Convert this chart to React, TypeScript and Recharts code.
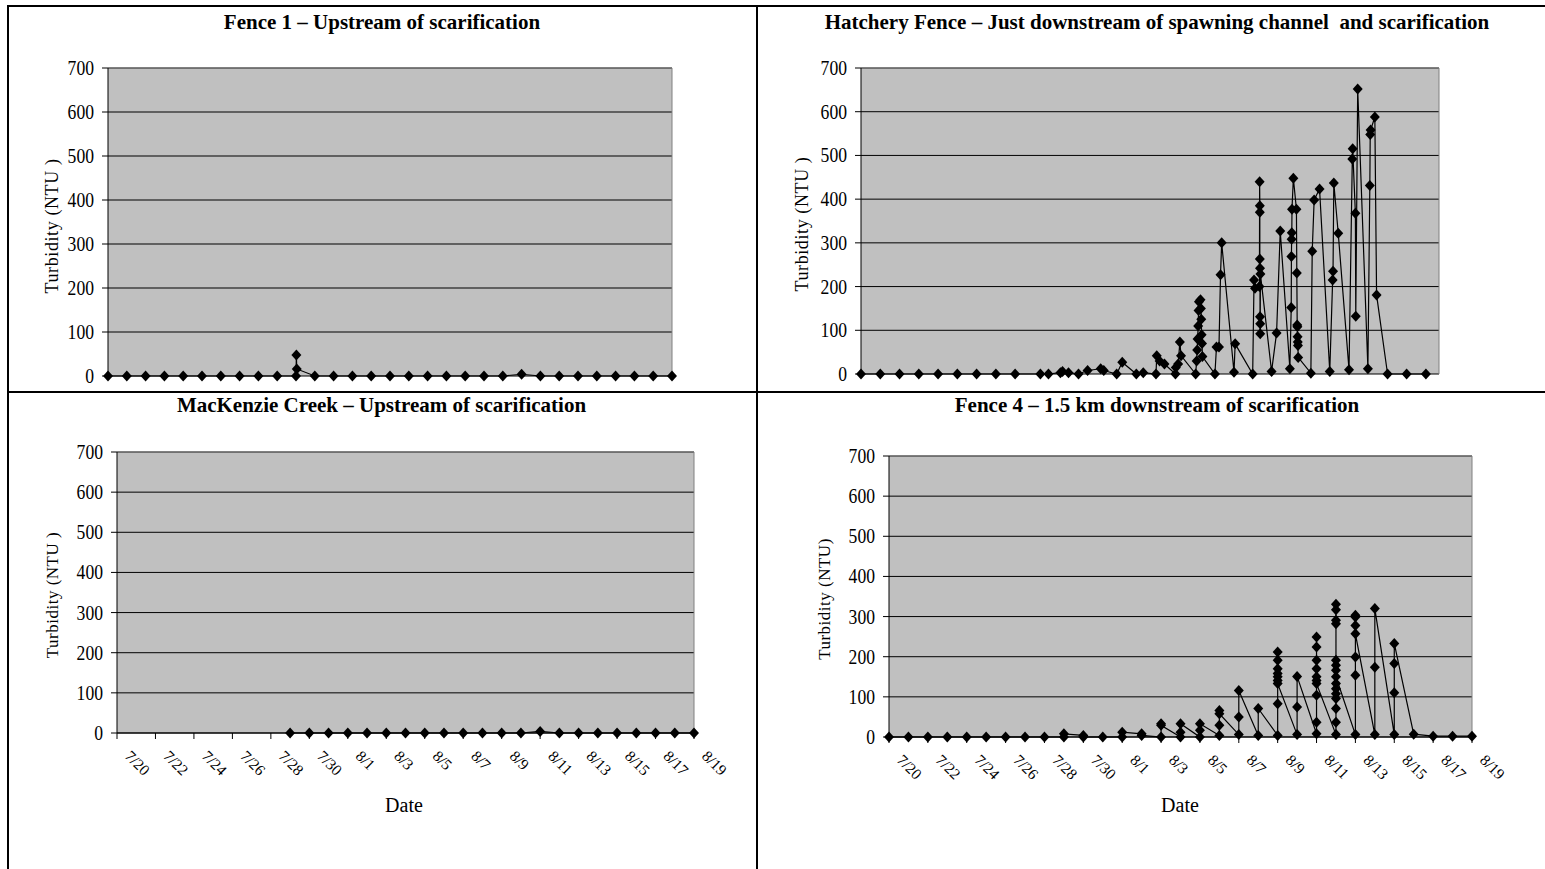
import React from "react";
import { LineChart, Line, XAxis, YAxis, CartesianGrid, ReferenceLine } from "recharts";

const serif = '"Liberation Serif", "Times New Roman", serif';

// x axis: days after 7/20, ticks every second day
const dateTicks = [0, 2, 4, 6, 8, 10, 12, 14, 16, 18, 20, 22, 24, 26, 28, 30];
const dateLabels = ["7/20", "7/22", "7/24", "7/26", "7/28", "7/30", "8/1", "8/3", "8/5", "8/7", "8/9", "8/11", "8/13", "8/15", "8/17", "8/19"];
const ntuTicks = [0, 100, 200, 300, 400, 500, 600, 700];

// Fence 1
const fence1Day = [0, 1, 2, 3, 4, 5, 6, 7, 8, 9, 10, 10.02, 10.04, 11, 12, 13, 14, 15, 16, 17, 18, 19, 20, 21, 22, 23, 24, 25, 26, 27, 28, 29, 30];
const fence1Ntu = [0, 0, 0, 0, 0, 0, 0, 0, 0, 0, 0, 48, 16, 0, 0, 0, 0, 0, 0, 0, 0, 0, 0, 0, 4, 0, 0, 0, 0, 0, 0, 0, 0];

// Hatchery fence
const hatchDay = [
  0, 1, 2, 3, 4, 5, 6, 7, 8,
  9.31, 9.73, 10.35, 10.46, 10.77, 11.29, 11.76, 12.44, 12.6, 13.27, 13.56, 14.29, 14.65,
  15.31, 15.35, 15.5, 15.75,
  16.32, 16.34, 16.46, 16.55, 16.61,
  17.37, 17.42, 17.45, 17.47, 17.5, 17.52, 17.54, 17.62, 17.64, 17.66, 17.68, 17.7, 17.72,
  18.37, 18.45, 18.58, 18.66, 18.72,
  19.36, 19.42,
  20.33, 20.4, 20.45, 20.68, 20.69, 20.7, 20.7, 20.7, 20.71, 20.71, 20.72, 20.72, 20.73,
  21.31, 21.57, 21.76,
  22.26, 22.33, 22.34, 22.35, 22.36, 22.37, 22.44, 22.6, 22.62, 22.64, 22.65, 22.66, 22.67, 22.68, 22.69,
  23.35, 23.42, 23.52, 23.8,
  24.33, 24.48, 24.5, 24.54, 24.77,
  25.33, 25.5, 25.52, 25.66, 25.68, 25.78,
  26.31, 26.41, 26.43, 26.45, 26.67, 26.76,
  27.33, 28.32, 29.32,
];
const hatchNtu = [
  0, 0, 0, 0, 0, 0, 0, 0, 0,
  0, 0, 3, 6, 3, 0, 8, 12, 8, 0, 27, 0, 3,
  0, 42, 30, 23,
  0, 15, 23, 73, 42,
  0, 30, 55, 80, 110, 145, 165, 170, 150, 125, 90, 70, 40,
  0, 62, 62, 227, 300,
  4, 69,
  0, 215, 196, 200, 440, 385, 370, 263, 242, 131, 115, 92, 229,
  6, 94, 327,
  12, 152, 269, 308, 323, 377, 448, 377, 231, 112, 108, 85, 73, 65, 38,
  2, 281, 398, 423,
  6, 215, 235, 437, 322,
  10, 492, 515, 368, 132, 652,
  12, 431, 548, 558, 588, 181,
  0, 0, 0,
];

// MacKenzie Creek
const mackDay = [9, 10, 11, 12, 13, 14, 15, 16, 17, 18, 19, 20, 21, 22, 23, 24, 25, 26, 27, 28, 29, 30];
const mackNtu = [0, 0, 0, 0, 0, 0, 0, 0, 0, 0, 0, 0, 0, 4, 0, 0, 0, 0, 0, 0, 0, 0];

// Fence 4
const fence4Day = [
  0, 1, 2, 3, 4, 5, 6, 7, 8,
  9, 9, 10, 10, 11, 12, 12, 13, 13,
  14, 14, 14, 15, 15, 15, 16, 16, 16,
  17, 17, 17, 17, 18, 18, 18, 19, 19,
  20, 20, 20, 20, 20, 20, 20, 20, 20,
  21, 21, 21,
  22, 22, 22, 22, 22, 22, 22, 22, 22, 22,
  23, 23, 23, 23, 23, 23, 23, 23, 23, 23, 23, 23, 23, 23, 23,
  24, 24, 24, 24, 24, 24, 24,
  25, 25, 25,
  26, 26, 26, 26,
  27, 28, 29, 30,
];
const fence4Ntu = [
  0, 0, 0, 0, 0, 0, 0, 0, 0,
  0, 8, 4, 0, 0, 0, 12, 8, 4,
  0, 33, 29, 0, 12, 33, 0, 17, 33,
  4, 29, 66, 58, 6, 50, 116, 4, 71,
  4, 83, 212, 191, 170, 158, 150, 141, 133,
  6, 75, 151,
  8, 37, 104, 249, 224, 191, 170, 150, 141, 133,
  6, 37, 71, 96, 108, 120, 133, 331, 317, 291, 282, 191, 179, 166, 150,
  6, 154, 199, 303, 299, 278, 257,
  6, 174, 320,
  6, 110, 183, 233,
  7, 2, 2, 2,
];

const toRows = (days: number[], vals: number[]) => days.map((d, i) => ({ day: d, ntu: vals[i] }));

const Diamond = (p: any) => {
  const { cx, cy, index } = p;
  if (cx == null || cy == null) return <g key={index} />;
  return (
    <polygon
      key={index}
      points={`${cx},${cy - 5.5} ${cx + 5},${cy} ${cx},${cy + 5.5} ${cx - 5},${cy}`}
      fill="#000"
    />
  );
};

const EmptyTick = () => <g />;

// the scanned chart text is a little narrow, so squeeze the numbers sideways
const NtuTick = (p: any) => {
  const { x, y, payload } = p;
  return (
    <g transform={`translate(${x},${y}) scale(0.88,1)`}>
      <text x={0} y={0} dy="0.35em" textAnchor="end" fontSize={20} fontFamily={serif} fill="#000">
        {payload.value}
      </text>
    </g>
  );
};

const DateTick = (p: any) => {
  const { x, y, payload } = p;
  const label = dateLabels[dateTicks.indexOf(payload.value)] ?? "";
  const ax = x + 7;
  const ay = y + 18;
  return (
    <text x={ax} y={ay} transform={`rotate(45 ${ax} ${ay})`} fontSize={15.5} fontFamily={serif} fill="#000">
      {label}
    </text>
  );
};

type PanelProps = {
  left: number;
  top: number;
  width: number;
  height: number;
  yWidth: number;
  margin: { top: number; right: number; bottom: number; left: number };
  xHeight: number;
  xMode: "none" | "ticks" | "labels";
  rows: { day: number; ntu: number }[];
};

function Panel({ left, top, width, height, yWidth, margin, xHeight, xMode, rows }: PanelProps) {
  return (
    <div style={{ position: "absolute", left, top, width, height }}>
      <LineChart width={width} height={height} data={rows} margin={margin}>
        <CartesianGrid vertical={false} stroke="#000" fill="#c0c0c0" fillOpacity={1} />
        <XAxis
          dataKey="day"
          type="number"
          domain={[0, 30]}
          ticks={dateTicks}
          height={xHeight}
          axisLine={{ stroke: "#000" }}
          tickLine={xMode === "none" ? false : { stroke: "#000" }}
          tickSize={6}
          tickMargin={0}
          tick={xMode === "labels" ? DateTick : xMode === "ticks" ? EmptyTick : false}
          interval={0}
        />
        <YAxis
          type="number"
          domain={[0, 700]}
          ticks={ntuTicks}
          width={yWidth}
          axisLine={{ stroke: "#000" }}
          tickLine={{ stroke: "#000" }}
          tickSize={6}
          tickMargin={8}
          tick={NtuTick}
          interval={0}
        />
        <ReferenceLine y={700} stroke="#808080" />
        <ReferenceLine x={30} stroke="#808080" />
        <Line
          type="linear"
          dataKey="ntu"
          stroke="#000"
          strokeWidth={1.2}
          dot={Diamond}
          activeDot={false}
          isAnimationActive={false}
        />
      </LineChart>
    </div>
  );
}

const rule = (left: number, top: number, width: number, height: number) => (
  <div style={{ position: "absolute", left, top, width, height, background: "#000" }} />
);

export default function App() {
  return (
    <div style={{ position: "absolute", left: 0, top: 0, width: 1545, height: 869, background: "#fff", overflow: "hidden" }}>
      <Panel
        left={0}
        top={0}
        width={756}
        height={392}
        yWidth={108}
        margin={{ top: 68, right: 84, bottom: 16, left: 0 }}
        xHeight={0}
        xMode="none"
        rows={toRows(fence1Day, fence1Ntu)}
      />
      <Panel
        left={757}
        top={0}
        width={788}
        height={392}
        yWidth={104}
        margin={{ top: 68, right: 106, bottom: 18, left: 0 }}
        xHeight={0}
        xMode="ticks"
        rows={toRows(hatchDay, hatchNtu)}
      />
      <Panel
        left={0}
        top={392}
        width={756}
        height={477}
        yWidth={117}
        margin={{ top: 60, right: 62, bottom: 0, left: 0 }}
        xHeight={136}
        xMode="labels"
        rows={toRows(mackDay, mackNtu)}
      />
      <Panel
        left={757}
        top={392}
        width={788}
        height={477}
        yWidth={132}
        margin={{ top: 64, right: 73, bottom: 0, left: 0 }}
        xHeight={132}
        xMode="labels"
        rows={toRows(fence4Day, fence4Ntu)}
      />

      <svg width={1545} height={869} style={{ position: "absolute", left: 0, top: 0, pointerEvents: "none" }}>
        <g fontFamily={serif} fill="#000" textAnchor="middle">
          <text x={382} y={28.5} fontSize={21} fontWeight="bold">Fence 1 – Upstream of scarification</text>
          <text x={1157} y={28.5} fontSize={21} fontWeight="bold" style={{ whiteSpace: "pre" }}>
            Hatchery Fence – Just downstream of spawning channel  and scarification
          </text>
          <text x={381.5} y={411.5} fontSize={21} fontWeight="bold">MacKenzie Creek – Upstream of scarification</text>
          <text x={1157} y={411.5} fontSize={21} fontWeight="bold">Fence 4 – 1.5 km downstream of scarification</text>

          <text x={52} y={226} dy="0.35em" fontSize={18} letterSpacing={0.6} transform="rotate(-90 52 226)">Turbidity (NTU )</text>
          <text x={802} y={224} dy="0.35em" fontSize={18} letterSpacing={0.6} transform="rotate(-90 802 224)">Turbidity (NTU )</text>
          <text x={52.5} y={595} dy="0.35em" fontSize={17} letterSpacing={0.5} transform="rotate(-90 52.5 595)">Turbidity (NTU )</text>
          <text x={824} y={599} dy="0.35em" fontSize={17} letterSpacing={0.5} transform="rotate(-90 824 599)">Turbidity (NTU)</text>

          <text x={404} y={812} fontSize={20}>Date</text>
          <text x={1180} y={812} fontSize={20}>Date</text>
        </g>
      </svg>

      {rule(7, 5, 1538, 2)}
      {rule(7, 5, 2, 864)}
      {rule(756, 5, 2, 864)}
      {rule(7, 391, 1538, 2)}
    </div>
  );
}
